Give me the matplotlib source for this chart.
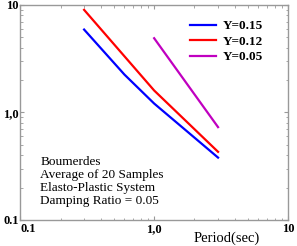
import numpy as np
import matplotlib.pyplot as plt
from matplotlib.ticker import FixedLocator, LogLocator, NullFormatter

# periods (sec) and ductility demand
T_015 = [0.3, 0.6, 1.0, 3.0]
Y_015 = [5.9, 2.25, 1.21, 0.38]
T_012 = [0.3, 1.0, 3.0]
Y_012 = [9.0, 1.6, 0.43]
T_005 = [1.0, 3.0]
Y_005 = [4.9, 0.73]

labels = ['Y=0.15', 'Y=0.12', 'Y=0.05']
tick_vals = [0.1, 1.0, 10]
tick_text = ['0.1', '1,0', '10']

fig = plt.figure(figsize=(2.97, 2.46), dpi=100)
ax = fig.add_axes([0.068, 0.106, 0.902, 0.874])

ax.plot(T_015, Y_015, color='#0000ff', lw=1.6, label=labels[0])
ax.plot(T_012, Y_012, color='#ff0000', lw=1.6, label=labels[1])
ax.plot(T_005, Y_005, color='#c000c0', lw=1.6, label=labels[2])

ax.set_xscale('log')
ax.set_yscale('log')
ax.set_xlim(0.1, 10)
ax.set_ylim(0.1, 10)

ax.xaxis.set_major_locator(FixedLocator(tick_vals))
ax.yaxis.set_major_locator(FixedLocator(tick_vals))
ax.set_xticklabels(tick_text, fontfamily='Liberation Serif', fontweight='bold', fontsize=9)
ax.set_yticklabels(tick_text, fontfamily='Liberation Serif', fontweight='bold', fontsize=9)
ax.get_xticklabels()[0].set_ha('left')
for ax_ in (ax.xaxis, ax.yaxis):
    ax_.set_minor_locator(LogLocator(base=10, subs=np.arange(2, 10)))
    ax_.set_minor_formatter(NullFormatter())
ax.tick_params(which='both', direction='in', top=True, right=True, color='#999999', pad=1)
ax.tick_params(axis='x', pad=2)
ax.tick_params(which='major', length=3, width=0.8)
ax.tick_params(which='minor', length=1.8, width=0.6)
for s in ax.spines.values():
    s.set_color('#999999')
    s.set_linewidth(1)

ax.set_xlabel('Period(sec)', fontfamily='Liberation Serif', fontsize=10.5, labelpad=0)
ax.xaxis.set_label_coords(0.77, -0.055)

txt = 'Boumerdes\nAverage of 20 Samples\nElasto-Plastic System\nDamping Ratio = 0.05'
ax.text(0.075, 0.295, txt, transform=ax.transAxes, fontfamily='Liberation Serif',
        fontsize=9.5, va='top', ha='left', linespacing=1.08)

leg = ax.legend(loc='upper right', bbox_to_anchor=(0.95, 0.985), frameon=False,
                prop={'family': 'Liberation Serif', 'weight': 'bold', 'size': 9.5},
                handlelength=2.0, handletextpad=0.5, labelspacing=0.25)

fig.savefig('out.png', dpi=100)
